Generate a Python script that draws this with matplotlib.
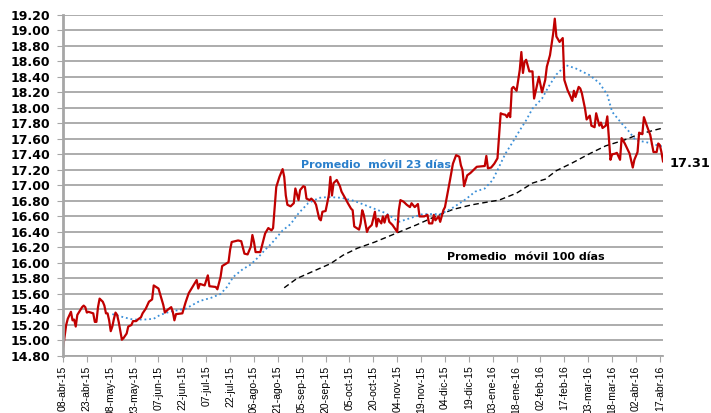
import numpy as np
import pandas as pd
import matplotlib
matplotlib.use("Agg")
import matplotlib.pyplot as plt
import matplotlib.ticker as mticker

#-----------------------------------------------------#
# Tipo de cambio (pesos por dolar), lecturas del grafico

fx_dates = [
    "2015-04-08", "2015-04-10", "2015-04-11", "2015-04-13", "2015-04-14", "2015-04-15", "2015-04-16", "2015-04-17",
    "2015-04-20", "2015-04-21", "2015-04-22", "2015-04-23", "2015-04-24", "2015-04-27", "2015-04-28", "2015-04-29",
    "2015-04-30", "2015-05-01", "2015-05-03", "2015-05-04", "2015-05-05", "2015-05-06", "2015-05-07", "2015-05-08",
    "2015-05-09", "2015-05-10", "2015-05-11", "2015-05-12", "2015-05-13", "2015-05-15", "2015-05-16", "2015-05-18",
    "2015-05-19", "2015-05-21", "2015-05-22", "2015-05-24", "2015-05-25", "2015-05-27", "2015-05-28", "2015-05-30",
    "2015-06-01", "2015-06-03", "2015-06-04", "2015-06-07", "2015-06-08", "2015-06-10", "2015-06-11", "2015-06-13",
    "2015-06-15", "2015-06-16", "2015-06-17", "2015-06-18", "2015-06-22", "2015-06-24", "2015-06-26", "2015-07-01",
    "2015-07-02", "2015-07-03", "2015-07-06", "2015-07-08", "2015-07-09", "2015-07-13", "2015-07-14", "2015-07-16",
    "2015-07-17", "2015-07-21", "2015-07-22", "2015-07-23", "2015-07-27", "2015-07-29", "2015-07-31", "2015-08-02",
    "2015-08-04", "2015-08-05", "2015-08-06", "2015-08-07", "2015-08-10", "2015-08-12", "2015-08-13", "2015-08-15",
    "2015-08-17", "2015-08-18", "2015-08-19", "2015-08-20", "2015-08-22", "2015-08-24", "2015-08-25", "2015-08-26",
    "2015-08-27", "2015-08-29", "2015-08-31", "2015-09-01", "2015-09-03", "2015-09-04", "2015-09-06", "2015-09-07",
    "2015-09-08", "2015-09-10", "2015-09-11", "2015-09-13", "2015-09-14", "2015-09-16", "2015-09-17", "2015-09-18",
    "2015-09-20", "2015-09-22", "2015-09-23", "2015-09-24", "2015-09-25", "2015-09-27", "2015-09-29", "2015-09-30",
    "2015-10-03", "2015-10-04", "2015-10-06", "2015-10-07", "2015-10-08", "2015-10-11", "2015-10-12", "2015-10-13",
    "2015-10-14", "2015-10-16", "2015-10-17", "2015-10-19", "2015-10-21", "2015-10-22", "2015-10-23", "2015-10-25",
    "2015-10-26", "2015-10-27", "2015-10-28", "2015-10-29", "2015-10-30", "2015-11-01", "2015-11-03", "2015-11-04",
    "2015-11-05", "2015-11-06", "2015-11-08", "2015-11-10", "2015-11-12", "2015-11-13", "2015-11-15", "2015-11-17",
    "2015-11-18", "2015-11-21", "2015-11-23", "2015-11-24", "2015-11-26", "2015-11-27", "2015-11-28", "2015-11-30",
    "2015-12-01", "2015-12-03", "2015-12-04", "2015-12-06", "2015-12-07", "2015-12-09", "2015-12-11", "2015-12-13",
    "2015-12-14", "2015-12-15", "2015-12-16", "2015-12-18", "2015-12-20", "2015-12-22", "2015-12-24", "2015-12-29",
    "2015-12-30", "2015-12-31", "2016-01-02", "2016-01-04", "2016-01-06", "2016-01-07", "2016-01-08", "2016-01-09",
    "2016-01-11", "2016-01-12", "2016-01-13", "2016-01-14", "2016-01-15", "2016-01-16", "2016-01-18", "2016-01-20",
    "2016-01-21", "2016-01-22", "2016-01-23", "2016-01-24", "2016-01-26", "2016-01-28", "2016-01-29", "2016-02-01",
    "2016-02-03", "2016-02-05", "2016-02-06", "2016-02-08", "2016-02-10", "2016-02-11", "2016-02-12", "2016-02-14",
    "2016-02-16", "2016-02-17", "2016-02-19", "2016-02-21", "2016-02-22", "2016-02-23", "2016-02-24", "2016-02-26",
    "2016-02-27", "2016-02-28", "2016-03-01", "2016-03-02", "2016-03-04", "2016-03-05", "2016-03-07", "2016-03-08",
    "2016-03-10", "2016-03-11", "2016-03-12", "2016-03-14", "2016-03-15", "2016-03-17", "2016-03-18", "2016-03-20",
    "2016-03-21", "2016-03-23", "2016-03-24", "2016-03-26", "2016-03-29", "2016-03-31", "2016-04-01", "2016-04-03",
    "2016-04-04", "2016-04-06", "2016-04-07", "2016-04-09", "2016-04-11", "2016-04-13", "2016-04-15", "2016-04-16",
    "2016-04-17", "2016-04-18", "2016-04-19",
]
fx_vals = [
    14.90, 15.20, 15.28, 15.37, 15.26, 15.27, 15.18, 15.33,
    15.43, 15.45, 15.43, 15.36, 15.37, 15.35, 15.24, 15.24,
    15.43, 15.54, 15.50, 15.45, 15.35, 15.35, 15.26, 15.12,
    15.18, 15.28, 15.36, 15.33, 15.24, 15.01, 15.03, 15.09,
    15.18, 15.20, 15.25, 15.25, 15.27, 15.30, 15.35, 15.41,
    15.50, 15.53, 15.71, 15.67, 15.60, 15.46, 15.36, 15.40,
    15.43, 15.37, 15.26, 15.34, 15.35, 15.49, 15.61, 15.78,
    15.67, 15.73, 15.71, 15.84, 15.70, 15.69, 15.66, 15.82,
    15.96, 16.01, 16.17, 16.27, 16.29, 16.28, 16.12, 16.11,
    16.21, 16.36, 16.27, 16.14, 16.14, 16.30, 16.38, 16.45,
    16.42, 16.45, 16.72, 16.98, 17.11, 17.21, 17.11, 16.87,
    16.75, 16.73, 16.77, 16.96, 16.81, 16.94, 16.99, 16.98,
    16.83, 16.81, 16.83, 16.79, 16.75, 16.57, 16.55, 16.66,
    16.67, 16.87, 17.11, 16.87, 17.03, 17.07, 16.99, 16.92,
    16.81, 16.77, 16.70, 16.68, 16.47, 16.43, 16.51, 16.68,
    16.62, 16.40, 16.45, 16.49, 16.66, 16.47, 16.57, 16.51,
    16.60, 16.52, 16.60, 16.62, 16.53, 16.49, 16.43, 16.40,
    16.68, 16.81, 16.79, 16.75, 16.72, 16.77, 16.72, 16.76,
    16.60, 16.60, 16.62, 16.51, 16.51, 16.62, 16.55, 16.60,
    16.53, 16.68, 16.72, 16.94, 17.05, 17.28, 17.39, 17.37,
    17.26, 17.20, 16.99, 17.13, 17.16, 17.20, 17.24, 17.25,
    17.38, 17.22, 17.23, 17.28, 17.35, 17.65, 17.93, 17.92,
    17.91, 17.88, 17.93, 17.88, 18.25, 18.27, 18.22, 18.49,
    18.72, 18.45, 18.59, 18.62, 18.47, 18.47, 18.12, 18.40,
    18.20, 18.36, 18.53, 18.68, 18.96, 19.15, 18.92, 18.85,
    18.90, 18.36, 18.23, 18.14, 18.09, 18.22, 18.14, 18.27,
    18.25, 18.19, 17.99, 17.85, 17.90, 17.77, 17.75, 17.93,
    17.77, 17.81, 17.74, 17.77, 17.89, 17.33, 17.40, 17.41,
    17.42, 17.33, 17.61, 17.54, 17.41, 17.23, 17.33, 17.43,
    17.68, 17.66, 17.88, 17.76, 17.65, 17.43, 17.43, 17.54,
    17.52, 17.43, 17.31,
]

# Promedio movil 23 dias
ma23_dates = [
    "2015-05-09", "2015-05-16", "2015-05-22", "2015-05-29", "2015-06-04", "2015-06-08", "2015-06-14", "2015-06-24",
    "2015-07-03", "2015-07-10", "2015-07-16", "2015-07-20", "2015-07-24", "2015-07-30", "2015-08-04", "2015-08-09",
    "2015-08-13", "2015-08-17", "2015-08-24", "2015-08-29", "2015-09-03", "2015-09-09", "2015-09-16", "2015-09-22",
    "2015-09-30", "2015-10-08", "2015-10-18", "2015-10-28", "2015-11-05", "2015-11-11", "2015-11-20", "2015-12-01",
    "2015-12-08", "2015-12-17", "2015-12-23", "2015-12-29", "2016-01-03", "2016-01-07", "2016-01-11", "2016-01-15",
    "2016-01-20", "2016-01-24", "2016-01-28", "2016-02-03", "2016-02-07", "2016-02-12", "2016-02-18", "2016-02-24",
    "2016-03-04", "2016-03-10", "2016-03-15", "2016-03-18", "2016-03-24", "2016-03-28", "2016-04-02", "2016-04-08",
    "2016-04-15", "2016-04-19",
]
ma23_vals = [
    15.34, 15.30, 15.27, 15.27, 15.28, 15.33, 15.37, 15.41,
    15.51, 15.55, 15.60, 15.69, 15.82, 15.92, 15.98, 16.08,
    16.17, 16.25, 16.42, 16.50, 16.64, 16.77, 16.84, 16.85,
    16.84, 16.80, 16.72, 16.64, 16.53, 16.57, 16.63, 16.63,
    16.70, 16.82, 16.92, 16.96, 17.07, 17.24, 17.41, 17.54,
    17.71, 17.84, 17.99, 18.12, 18.27, 18.43, 18.55, 18.51,
    18.42, 18.32, 18.17, 17.95, 17.80, 17.71, 17.58, 17.56,
    17.52, 17.50,
]

# Promedio movil 100 dias
ma100_dates = [
    "2015-08-25", "2015-09-02", "2015-09-13", "2015-09-23", "2015-10-01", "2015-10-10", "2015-10-21", "2015-11-03",
    "2015-11-16", "2015-11-28", "2015-12-09", "2015-12-21", "2016-01-01", "2016-01-07", "2016-01-18", "2016-01-28",
    "2016-02-05", "2016-02-12", "2016-02-22", "2016-03-04", "2016-03-14", "2016-03-25", "2016-04-04", "2016-04-15",
    "2016-04-19",
]
ma100_vals = [
    15.68, 15.80, 15.90, 15.99, 16.10, 16.19, 16.27, 16.38,
    16.49, 16.60, 16.69, 16.75, 16.79, 16.81, 16.90, 17.03,
    17.08, 17.19, 17.29, 17.41, 17.51, 17.58, 17.66, 17.72,
    17.74,
]

meses = ["ene", "feb", "mar", "abr", "may", "jun", "jul", "ago", "sep", "oct", "nov", "dic"]

#-----------------------------------------------------#

fx = pd.Series(fx_vals, index=pd.to_datetime(fx_dates))
ma23 = pd.Series(ma23_vals, index=pd.to_datetime(ma23_dates))
ma100 = pd.Series(ma100_vals, index=pd.to_datetime(ma100_dates))

fig = plt.figure(figsize=(7.11, 4.13), dpi=100)
ax = fig.add_axes([0.0886, 0.138, 0.8439, 0.8262])

gridcolor = "#a6a6a6"
ax.set_yticks(np.arange(14.8, 19.21, 0.2))
ax.set_ylim(14.8, 19.2)
ax.yaxis.set_major_formatter(mticker.FormatStrFormatter("%.2f"))
ax.grid(True, axis="y", color=gridcolor, lw=1.3)
ax.set_axisbelow(True)

ax.plot(ma100.index, ma100.values, color="black", lw=1.0, dashes=(4, 2.5))
ax.plot(ma23.index, ma23.values, color="#3a8fd8", lw=1.3, linestyle=(0, (1, 1.6)))
ax.plot(fx.index, fx.values, color="#c00000", lw=1.6)

ticks = pd.date_range("2015-04-08", periods=26, freq="15D")
ax.set_xticks(ticks)
ax.set_xticklabels([f"{t.day:02d}-{meses[t.month - 1]}-{t.strftime('%y')}" for t in ticks],
                   rotation=90, fontsize=7.5, family="Liberation Sans")
ax.set_xlim(pd.Timestamp("2015-04-08"), fx.index[-1])

for lab in ax.get_yticklabels():
    lab.set_fontweight("bold")
    lab.set_fontsize(9)
ax.tick_params(axis="y", length=4, color=gridcolor, pad=5)
ax.tick_params(axis="x", length=4, color=gridcolor, pad=3)

for s in ["top", "right"]:
    ax.spines[s].set_visible(False)
ax.spines["left"].set_color(gridcolor)
ax.spines["left"].set_linewidth(2)
ax.spines["bottom"].set_color(gridcolor)
ax.spines["bottom"].set_linewidth(1.3)

ax.text(0.397, 0.56, "Promedio  móvil 23 días", transform=ax.transAxes, color="#2a7fcb",
        fontsize=8, fontweight="bold", va="center", ha="left")
ax.text(0.64, 0.29, "Promedio  móvil 100 días", transform=ax.transAxes, color="black",
        fontsize=8, fontweight="bold", va="center", ha="left")
fig.text(0.942, 0.605, f"{fx_vals[-1]:.2f}", fontsize=9.3, fontweight="bold", va="center", ha="left")

plt.savefig("out.png", dpi=100)
